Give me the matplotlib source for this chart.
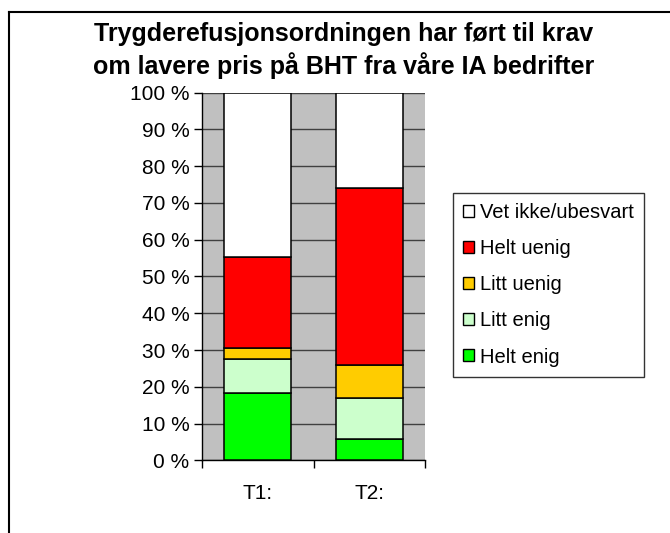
import matplotlib
matplotlib.use("Agg")
import matplotlib.pyplot as plt
from matplotlib.patches import Patch
from matplotlib.lines import Line2D
import numpy as np

plt.rcParams['font.family'] = ['Liberation Sans', 'DejaVu Sans']

categories = ["T1:", "T2:"]
series_names = ["Helt enig", "Litt enig", "Litt uenig", "Helt uenig", "Vet ikke/ubesvart"]
helt_enig = [18.4, 5.9]
litt_enig = [9.2, 11.1]
litt_uenig = [2.9, 9.0]
helt_uenig = [24.7, 48.0]
vet_ikke = [44.8, 26.0]
colors = ["#00FF00", "#CCFFCC", "#FFCC00", "#FF0000", "#FFFFFF"]
yticks = list(range(0, 101, 10))
ytick_labels = [f"{v} %" for v in yticks]
title = "Trygderefusjonsordningen har ført til krav\nom lavere pris på BHT fra våre IA bedrifter"

W, H = 670, 533
fig = plt.figure(figsize=(W / 100, H / 100), dpi=100)
ax = fig.add_axes([202 / W, 1 - 460.3 / H, (425 - 202) / W, (460.3 - 92.7) / H])
ax.set_facecolor("#C0C0C0")

x = np.arange(len(categories))
bottom = np.zeros(len(categories))
data = [helt_enig, litt_enig, litt_uenig, helt_uenig, vet_ikke]
for name, vals, c in zip(series_names, data, colors):
    ax.bar(x, vals, width=0.6, bottom=bottom, color=c, edgecolor="black",
           linewidth=1.1, label=name, zorder=3)
    bottom += np.array(vals)

ax.set_xlim(-0.5, 1.5)
ax.set_ylim(0, 100)
ax.set_yticks(yticks)
ax.set_yticklabels(ytick_labels, fontsize=15)
ax.yaxis.grid(True, color="#404040", linewidth=1.0, zorder=1)
ax.set_axisbelow(True)
ax.tick_params(axis="y", direction="out", length=6, width=1, pad=3)

ax.set_xticks([-0.5, 0.5, 1.5])
ax.set_xticklabels([])
ax.tick_params(axis="x", direction="out", length=6, width=1)
ax.set_xticks(x, minor=True)
ax.set_xticklabels(categories, minor=True, fontsize=15)
ax.tick_params(axis="x", which="minor", length=0, pad=17)

for s in ["top", "right"]:
    ax.spines[s].set_visible(False)
for s in ["left", "bottom"]:
    ax.spines[s].set_color("black")
    ax.spines[s].set_linewidth(1)

handles = [Patch(facecolor=c, edgecolor="black", linewidth=1) for c in colors][::-1]
labels = series_names[::-1]
leg = fig.legend(handles, labels, loc="upper left",
                 bbox_to_anchor=(453 / W, 1 - 193 / H), fontsize=14.5,
                 handlelength=0.55, handleheight=0.55, handletextpad=0.3,
                 labelspacing=0.85, borderpad=0.5, borderaxespad=0,
                 frameon=True, fancybox=False)
leg.get_frame().set_edgecolor("black")
leg.get_frame().set_linewidth(1)

fig.text(344 / W, 1 - 22 / H, title, ha="center", va="top", fontsize=18,
         fontweight="bold", linespacing=1.3)

fig.add_artist(Line2D([8.5 / W, 1], [1 - 12 / H, 1 - 12 / H], color="black", linewidth=1.5,
                      transform=fig.transFigure))
fig.add_artist(Line2D([8.5 / W, 8.5 / W], [0, 1 - 12 / H], color="black", linewidth=1.5,
                      transform=fig.transFigure))

fig.savefig("out.png", dpi=100)
